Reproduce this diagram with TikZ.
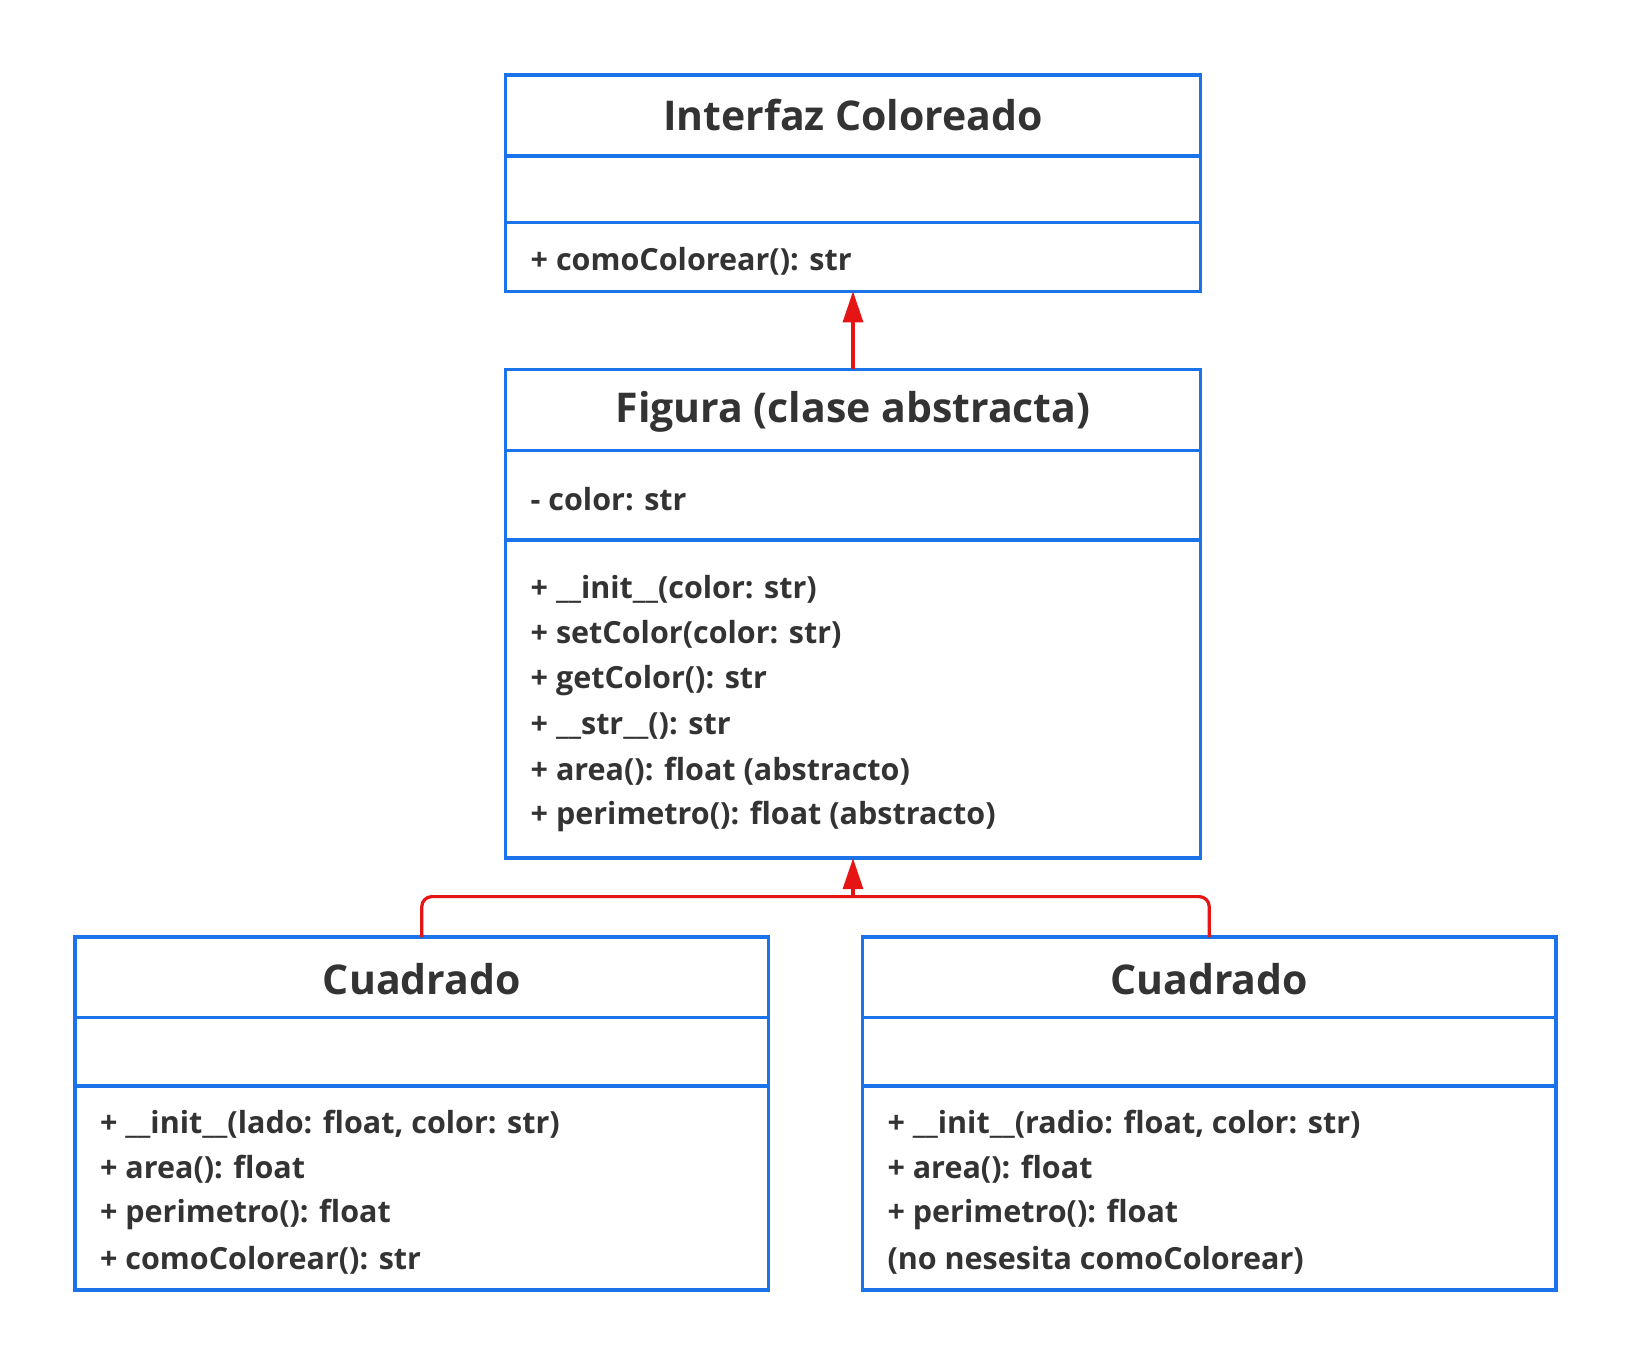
\documentclass[tikz,border=0pt]{standalone}
\usepackage{fontspec}
\setmainfont{Open Sans}
\usetikzlibrary{arrows.meta}
\definecolor{umlblue}{HTML}{1A73E8}
\definecolor{umlred}{HTML}{E51515}
\definecolor{txt}{HTML}{333333}
\begin{document}
\begin{tikzpicture}[x=1pt,y=-1pt,
  umlbox/.style={draw=umlblue,line width=3.5pt,inner sep=0pt,outer sep=0pt,rectangle},
  divider/.style={draw=umlblue,line width=3.5pt},
  ttl/.style={text=txt,font=\fontsize{41}{46}\selectfont\bfseries,inner sep=0pt},
  mem/.style={text=txt,font=\fontsize{30.5}{36}\selectfont\bfseries,inner sep=0pt,anchor=west,yshift=-3pt},
  conn/.style={draw=umlred,line width=3.2pt,rounded corners=10pt},
  tip/.style={-{Triangle[length=31pt,width=20pt]}}
]
\useasboundingbox (0,0) rectangle (1631,1365);
% boxes
\node[umlbox,minimum width=695pt,minimum height=216.4pt] (iface) at (853,183.1) {};
\node[umlbox,minimum width=695pt,minimum height=488.9pt] (fig) at (853,613.75) {};
\node[umlbox,minimum width=693.8pt,minimum height=352.6pt] (left) at (421.8,1113.5) {};
\node[umlbox,minimum width=693.8pt,minimum height=352.6pt] (right) at (1209.2,1113.5) {};
% dividers
\draw[divider] (iface.west |- 0,156) -- (iface.east |- 0,156);
\draw[divider] (iface.west |- 0,222.6) -- (iface.east |- 0,222.6);
\draw[divider] (fig.west |- 0,450.4) -- (fig.east |- 0,450.4);
\draw[divider] (fig.west |- 0,539.9) -- (fig.east |- 0,539.9);
\draw[divider] (left.west |- 0,1017.3) -- (left.east |- 0,1017.3);
\draw[divider] (left.west |- 0,1086) -- (left.east |- 0,1086);
\draw[divider] (right.west |- 0,1017.3) -- (right.east |- 0,1017.3);
\draw[divider] (right.west |- 0,1086) -- (right.east |- 0,1086);
% titles
\node[ttl] (t1) at (853,115.5) {Interfaz Coloreado};
\node[ttl] (t2) at (853,411.9) {Figura (clase abstracta)};
\node[ttl] (t3) at (421.8,978.8) {Cuadrado};
\node[ttl] (t4) at (1209.2,978.8) {Cuadrado};
% members
\node[mem] (m1) at (530.5,258) {+ comoColorear(): str};
\node[mem] (a1) at (530.5,496.2) {- color: str};
\node[mem] (f1) at (530.5,586.7) {+ \_\_init\_\_(color: str)};
\node[mem] (f2) at (530.5,631.4) {+ setColor(color: str)};
\node[mem] (f3) at (530.5,677.2) {+ getColor(): str};
\node[mem] (f4) at (530.5,723) {+ \_\_str\_\_(): str};
\node[mem] (f5) at (530.5,768.7) {+ area(): float (abstracto)};
\node[mem] (f6) at (530.5,813.4) {+ perimetro(): float (abstracto)};
\node[mem] (l1) at (99.9,1121.3) {+ \_\_init\_\_(lado: float, color: str)};
\node[mem] (l2) at (99.9,1166.1) {+ area(): float};
\node[mem] (l3) at (99.9,1211.9) {+ perimetro(): float};
\node[mem] (l4) at (99.9,1257.6) {+ comoColorear(): str};
\node[mem] (r1) at (887.3,1121.3) {+ \_\_init\_\_(radio: float, color: str)};
\node[mem] (r2) at (887.3,1166.1) {+ area(): float};
\node[mem] (r3) at (887.3,1211.9) {+ perimetro(): float};
\node[mem] (r4) at (887.3,1257.6) {(no nesesita comoColorear)};
% connectors
\coordinate (j) at (853,896.6);
\draw[conn,tip] (fig.north) -- (iface.south);
\draw[conn] (left.north) |- (j);
\draw[conn] (right.north) |- (j);
\draw[conn,tip] (j) -- (fig.south);
\end{tikzpicture}
\end{document}
